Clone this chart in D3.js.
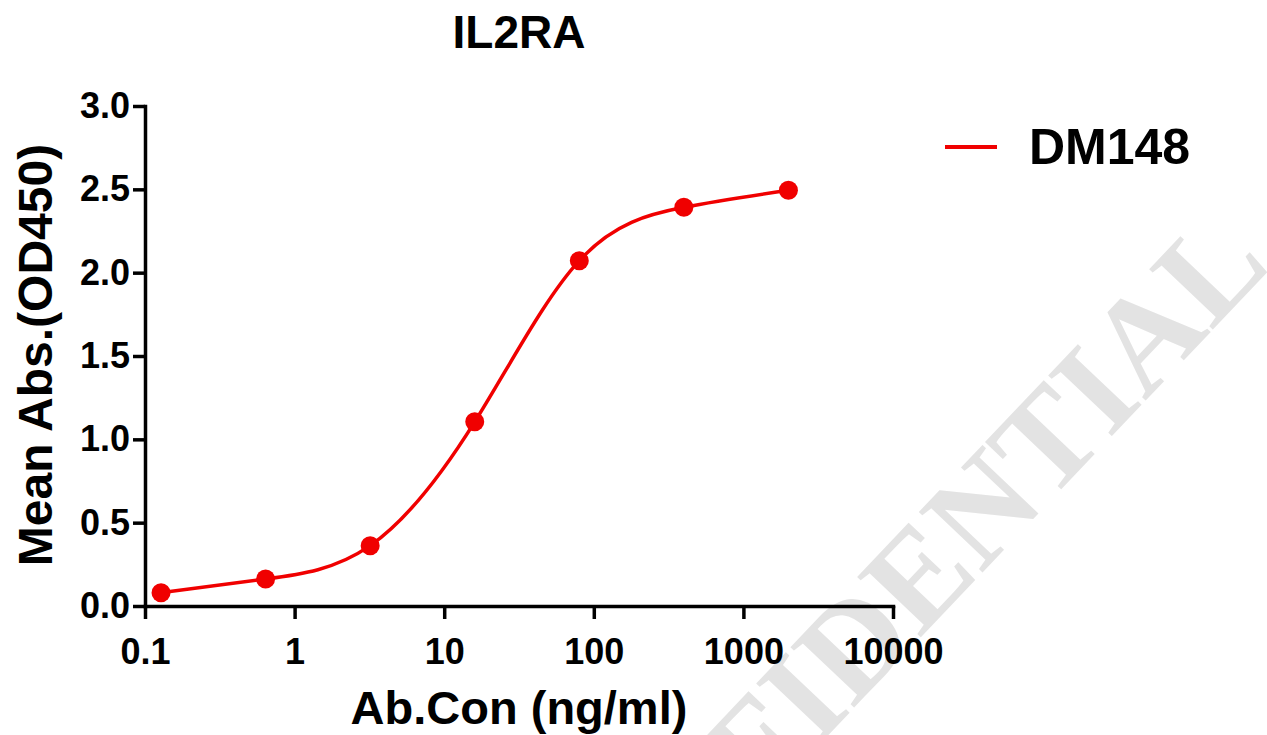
<!DOCTYPE html>
<html>
<head>
<meta charset="utf-8">
<script src="https://cdn.jsdelivr.net/npm/d3@7"></script>
<style>
  body { margin: 0; background: #fff; }
  svg { display: block; font-family: "Liberation Sans", Arial, sans-serif; }
  .axis path, .axis line { stroke: #000; stroke-width: 3.5; }
  .axis text { font-size: 36px; font-weight: bold; fill: #000; }
</style>
</head>
<body>
<script>
// data
var concentrations = [0.128, 0.64, 3.2, 16, 80, 400, 2000];   // ng/ml
var absorbance = [0.080, 0.162, 0.362, 1.105, 2.072, 2.392, 2.494]; // OD450
var seriesName = "DM148";
var xTicks = [0.1, 1, 10, 100, 1000, 10000];
var yTicks = [0, 0.5, 1.0, 1.5, 2.0, 2.5, 3.0];

var W = 1267, H = 735;
var margin = {top: 106, left: 145},
  width = 748,
  height = 500;

var red = "#f00000";

var svg = d3.select("body").append("svg")
  .attr("width", W)
  .attr("height", H);

// watermark, sits under the chart
svg.append("text")
  .attr("transform", "translate(882,614) rotate(-46.5)")
  .attr("text-anchor", "middle")
  .attr("dy", "0.33em")
  .style("font-family", "'Liberation Serif', 'Times New Roman', serif")
  .style("font-weight", "bold")
  .style("font-size", "134px")
  .style("fill", "#e3e3e3")
  .text("CONFIDENTIAL");

var g = svg.append("g")
  .attr("transform", "translate(" + margin.left + "," + margin.top + ")");

// scales
var x = d3.scaleLog().domain([0.1, 10000]).range([0, width]);
var y = d3.scaleLinear().domain([0, 3]).range([height, 0]);

// x-axis
g.append("g")
  .attr("class", "x axis")
  .attr("transform", "translate(0," + height + ")")
  .call(d3.axisBottom(x)
    .tickValues(xTicks)
    .tickSize(13)
    .tickSizeOuter(0)
    .tickPadding(19)
    .tickFormat(function(d) { return d < 1 ? d3.format(".1f")(d) : d3.format("d")(d); }));

// y-axis
g.append("g")
  .attr("class", "y axis")
  .call(d3.axisLeft(y)
    .tickValues(yTicks)
    .tickSize(12)
    .tickSizeOuter(0)
    .tickPadding(3)
    .tickFormat(d3.format(".1f")));

g.selectAll(".axis path").attr("stroke-linecap", "square");

// curve through the points
var pts = concentrations.map(function(c, i) { return [c, absorbance[i]]; });

var line = d3.line()
  .x(function(d) { return x(d[0]); })
  .y(function(d) { return y(d[1]); })
  .curve(d3.curveNatural);

g.append("path")
  .datum(pts)
  .attr("fill", "none")
  .attr("stroke", red)
  .attr("stroke-width", 3.5)
  .attr("d", line);

// dots
g.selectAll(".dot")
  .data(pts)
  .enter().append("circle")
  .attr("class", "dot")
  .attr("r", 9.5)
  .attr("cx", function(d) { return x(d[0]); })
  .attr("cy", function(d) { return y(d[1]); })
  .attr("fill", red);

// title
svg.append("text")
  .attr("x", 519)
  .attr("y", 48)
  .attr("text-anchor", "middle")
  .style("font-size", "46px")
  .style("font-weight", "bold")
  .text("IL2RA");

// axis labels
svg.append("text")
  .attr("x", 519)
  .attr("y", 724)
  .attr("text-anchor", "middle")
  .style("font-size", "47px")
  .style("font-weight", "bold")
  .text("Ab.Con (ng/ml)");

svg.append("text")
  .attr("transform", "translate(52,355) rotate(-90)")
  .attr("text-anchor", "middle")
  .style("font-size", "48px")
  .style("font-weight", "bold")
  .text("Mean Abs.(OD450)");

// legend
var legend = svg.append("g")
  .attr("transform", "translate(945,147)");

legend.append("line")
  .attr("x1", 0)
  .attr("x2", 52)
  .attr("stroke", red)
  .attr("stroke-width", 4);

legend.append("text")
  .attr("x", 84)
  .attr("y", 17)
  .style("font-size", "50px")
  .style("font-weight", "bold")
  .text(seriesName);
</script>
</body>
</html>
